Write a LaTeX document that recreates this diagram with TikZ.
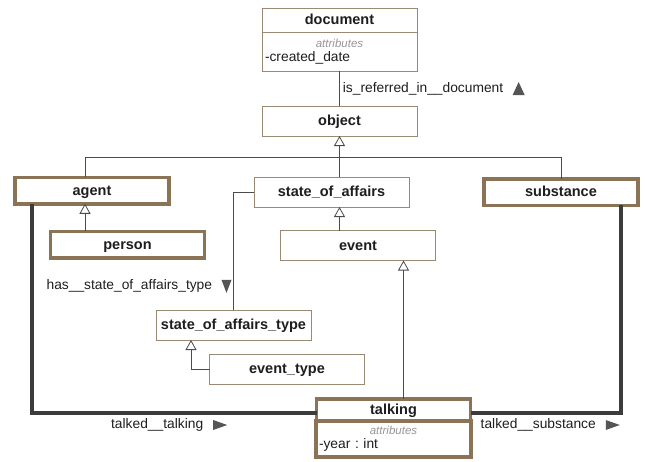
\documentclass[tikz,border=0pt]{standalone}
\usepackage{fontspec}
\setmainfont{Liberation Sans}
\usetikzlibrary{arrows.meta,positioning}

\definecolor{boxbrown}{RGB}{139,115,85}
\definecolor{thinbrown}{RGB}{155,138,115}
\definecolor{linegray}{RGB}{75,75,75}
\definecolor{thickgray}{RGB}{60,60,60}
\definecolor{attrgray}{RGB}{150,150,150}
\definecolor{markgray}{RGB}{85,85,85}
\definecolor{textdark}{RGB}{30,30,30}

\newcommand\titlefont{\fontsize{14.5}{16}\selectfont\bfseries}
\newcommand\lblfont{\fontsize{13.8}{14}\selectfont\frenchspacing}
\newcommand\attrfont{\fontsize{11.5}{14}\selectfont\itshape\color{attrgray}}

\tikzset{
  cls/.style={draw=thinbrown,line width=1pt,fill=white,outer sep=0pt,
    minimum width=155pt,minimum height=30pt,inner sep=0pt,
    text height=10pt,text depth=1pt,text=textdark,font=\titlefont},
  keycls/.style={cls,draw=boxbrown,line width=3.5pt,minimum width=154pt,minimum height=26.5pt},
  attrbox/.style={draw=thinbrown,line width=1pt,fill=white,outer sep=0pt,
    minimum width=155pt,minimum height=39pt,inner xsep=3pt,inner ysep=0pt,
    text width=149pt,align=left,text=textdark,font=\lblfont},
  keyattrbox/.style={attrbox,draw=boxbrown,line width=3.5pt,minimum height=36pt},
  tree/.style={draw=linegray,line width=0.8pt},
  gen/.style={tree,-{Triangle[open,length=10pt,width=11pt]}},
  assoc/.style={tree},
  link/.style={draw=thickgray,line width=4pt},
  lbl/.style={inner sep=1pt,text height=10pt,text depth=3pt,text=textdark,font=\lblfont},
  dirmark/.style={fill=markgray}
}

\begin{document}
\begin{tikzpicture}[x=1pt,y=-1pt,>=Stealth]
  \useasboundingbox (0,0) rectangle (645,461);

  % classes
  \node[cls,minimum height=24pt] (document) at (339.5,20) {document};
  \node[attrbox,below=0pt of document] (docattr) {{\centering\attrfont attributes\par}-created\_date};
  \node[cls] (object) at (339.5,121) {object};
  \node[keycls] (agent) at (92,190.5) {agent};
  \node[cls] (soa) at (331.5,192) {state\_of\_affairs};
  \node[keycls] (substance) at (561,192) {substance};
  \node[keycls] (person) at (127.5,244.5) {person};
  \node[cls] (event) at (358,245.5) {event};
  \node[cls] (soatype) at (233.5,325) {state\_of\_affairs\_type};
  \node[cls] (eventtype) at (287,369) {event\_type};
  \node[keycls,minimum height=22pt] (talking) at (393.5,410) {talking};
  \node[keyattrbox,below=0pt of talking] (talkattr) {{\centering\attrfont attributes\par}-year : int};

  % helper points on the class borders
  \coordinate[below=21pt of object.south] (objbus);
  \coordinate[left=7pt of agent.north] (agthead);
  \coordinate[left=7pt of agent.south] (agtfoot);
  \coordinate[left=60pt of agent.south] (agtleg);
  \coordinate[right=60pt of substance.south] (sbsleg);
  \coordinate[left=42.5pt of soatype.south] (sttfoot);
  \coordinate[right=10pt of talking.north] (tkhead);
  \coordinate[below=3pt of talking.west] (tkwest);
  \coordinate[below=3pt of talking.east] (tkeast);

  % generalisations
  \draw[tree] (agthead) |- (substance.north |- objbus) -- (substance.north);
  \draw[tree] (soa.north -| objbus) -- (objbus);
  \draw[gen] (objbus) -- (object.south);
  \draw[gen] (agtfoot |- person.north) -- (agtfoot);
  \draw[gen] (event.north -| objbus) -- (soa.south -| objbus);
  \draw[gen] (tkhead) -- (tkhead |- event.south);
  \draw[gen] (eventtype.west) -| (sttfoot);

  % relations
  \draw[assoc] (docattr.south) -- (object.north)
    node[lbl,midway,right=2pt] (reflbl) {is\_referred\_in\_\_document};
  \fill[dirmark] ([xshift=8pt]reflbl.east) ++(0,6.5) -- ++(12,0) -- ++(-6,-13) -- cycle;

  \draw[assoc] (soa.west) -| (soatype.north)
    node[lbl,pos=0.9,left=20pt] (haslbl) {has\_\_state\_of\_affairs\_type};
  \fill[dirmark] ([xshift=8pt]haslbl.east) ++(0,-6.5) -- ++(10,0) -- ++(-5,13) -- cycle;

  \draw[link] (agtleg) |- (tkwest)
    node[lbl,pos=0.72,below=2.5pt] (ttlbl) {talked\_\_talking};
  \fill[dirmark] ([xshift=7pt]ttlbl.east) ++(0,-5) -- ++(0,10) -- ++(14,-5) -- cycle;

  \draw[link] (tkeast) -| (sbsleg)
    node[lbl,pos=0.225,below=2.5pt] (tslbl) {talked\_\_substance};
  \fill[dirmark] ([xshift=7pt]tslbl.east) ++(0,-5) -- ++(0,10) -- ++(14,-5) -- cycle;
\end{tikzpicture}
\end{document}
